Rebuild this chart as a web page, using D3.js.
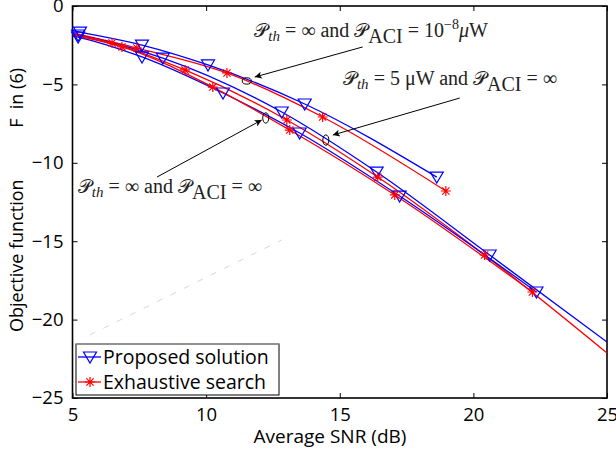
<!DOCTYPE html>
<html>
<head>
<meta charset="utf-8">
<script src="https://cdn.jsdelivr.net/npm/d3@7"></script>
<style>
body { margin: 0; background: #fff; }
svg { display: block; }
.tick text { font-family: "Open Sans", sans-serif; font-size: 18.5px; fill: #000; }
.ann { font-family: "Liberation Serif", "DejaVu Serif", serif; font-size: 20px; fill: #222; }
.ylab { font-family: "Open Sans", sans-serif; font-size: 18px; }
</style>
</head>
<body>
<svg class="chart"></svg>
<script>
// values
var xTicks = [5, 10, 15, 20, 25];
var yTicks = [0, -5, -10, -15, -20, -25];

// P_th = inf, P_ACI = 1e-8 uW
var aciSnrProp = [5.0, 5.28, 7.60, 10.07, 13.69, 18.63];
var aciFProp   = [-1.56, -1.66, -2.49, -3.76, -6.25, -10.91];
var aciMkProp  = [1, 2, 3, 4, 5];
var aciSnrExh  = [5.0, 7.41, 10.78, 14.36, 18.97];
var aciFExh    = [-1.72, -2.68, -4.27, -7.08, -11.80];
var aciMkExh   = [1, 2, 3, 4];

// P_th = 5 uW, P_ACI = inf
var thSnrProp = [5.0, 5.21, 8.38, 12.83, 16.38, 20.61, 25];
var thFProp   = [-1.78, -1.85, -3.32, -6.76, -10.59, -15.88, -21.43];
var thMkProp  = [1, 2, 3, 4, 5];
var thSnrExh  = [5.0, 6.48, 9.21, 13.02, 16.42, 20.42, 25];
var thFExh    = [-1.80, -2.36, -4.08, -7.27, -10.91, -15.88, -22.13];
var thMkExh   = [1, 2, 3, 4, 5];

// P_th = inf, P_ACI = inf
var freeSnrProp = [5.0, 5.21, 7.60, 10.63, 13.50, 17.24, 22.36];
var freeFProp   = [-1.90, -1.98, -3.25, -5.55, -8.10, -12.12, -18.24];
var freeMkProp  = [1, 2, 3, 4, 5, 6];
var freeSnrExh  = [5.0, 6.85, 10.25, 13.13, 17.06, 22.21];
var freeFExh    = [-1.85, -2.61, -5.17, -7.91, -12.05, -18.24];
var freeMkExh   = [1, 2, 3, 4, 5];

var width = 616, height = 451;
var margin = {left: 72.5, top: 6, right: 9, bottom: 53};
var pw = width - margin.left - margin.right,
    ph = height - margin.top - margin.bottom;

var svg = d3.select(".chart").attr("width", width).attr("height", height);

var x = d3.scaleLinear().domain([5, 25]).range([margin.left, margin.left + pw]);
var y = d3.scaleLinear().domain([-25, 0]).range([margin.top + ph, margin.top]);

svg.append("clipPath").attr("id", "plot")
  .append("rect").attr("x", margin.left).attr("y", margin.top).attr("width", pw).attr("height", ph);

// axes, ticks pointing inwards on all four sides
svg.append("g").attr("transform", "translate(0," + (margin.top + ph) + ")")
  .call(d3.axisBottom(x).tickValues(xTicks).tickSize(-5).tickPadding(10).tickFormat(d3.format("d")));
svg.append("g").attr("transform", "translate(0," + margin.top + ")")
  .call(d3.axisTop(x).tickValues(xTicks).tickSize(-5).tickFormat(""));
svg.append("g").attr("transform", "translate(" + margin.left + ",0)")
  .call(d3.axisLeft(y).tickValues(yTicks).tickSize(-5).tickPadding(9).tickFormat(function(d){ return d === 0 ? "0" : "\u2212" + (-d); }));
svg.append("g").attr("transform", "translate(" + (margin.left + pw) + ",0)")
  .call(d3.axisRight(y).tickValues(yTicks).tickSize(-5).tickFormat(""));
svg.selectAll(".domain").remove();
svg.selectAll(".tick line").attr("stroke", "#000").attr("stroke-width", 1);

svg.append("rect").attr("x", margin.left).attr("y", margin.top).attr("width", pw).attr("height", ph)
  .attr("fill", "none").attr("stroke", "#000").attr("stroke-width", 1.6);

// faint stray dotted line in the lower left
svg.append("line")
  .attr("x1", x(5.65)).attr("y1", y(-20.98)).attr("x2", x(12.83)).attr("y2", y(-14.92))
  .attr("stroke", "#ccc").attr("stroke-width", 0.8).attr("stroke-dasharray", "6,9");

var line = d3.line().curve(d3.curveMonotoneX)
  .x(function(d){ return x(d[0]); }).y(function(d){ return y(d[1]); });

var tri = "M-6.5,-5L6.5,-5L0,6Z";
var star = "M-5,0L5,0M0,-5L0,5M-3.6,-3.6L3.6,3.6M-3.6,3.6L3.6,-3.6";

var series = [
  {snr: aciSnrProp, f: aciFProp, mk: aciMkProp, color: "#0000ff", shape: tri},
  {snr: aciSnrExh, f: aciFExh, mk: aciMkExh, color: "#ff0000", shape: star},
  {snr: thSnrProp, f: thFProp, mk: thMkProp, color: "#0000ff", shape: tri},
  {snr: thSnrExh, f: thFExh, mk: thMkExh, color: "#ff0000", shape: star},
  {snr: freeSnrProp, f: freeFProp, mk: freeMkProp, color: "#0000ff", shape: tri},
  {snr: freeSnrExh, f: freeFExh, mk: freeMkExh, color: "#ff0000", shape: star}
];

var plot = svg.append("g").attr("clip-path", "url(#plot)");

series.forEach(function(s){
  var pts = s.snr.map(function(v, i){ return [v, s.f[i]]; });
  plot.append("path").attr("d", line(pts))
    .attr("fill", "none").attr("stroke", s.color).attr("stroke-width", 1.3);
  svg.selectAll(null).data(s.mk).enter().append("path")
    .attr("transform", function(i){ return "translate(" + x(s.snr[i]) + "," + y(s.f[i]) + ")"; })
    .attr("d", s.shape).attr("fill", "none").attr("stroke", s.color).attr("stroke-width", 1.2);
});

// annotations: ellipses and arrows
svg.append("defs").append("marker").attr("id", "head")
  .attr("viewBox", "0 0 10 10").attr("refX", 10).attr("refY", 5)
  .attr("markerWidth", 9).attr("markerHeight", 7).attr("markerUnits", "userSpaceOnUse")
  .attr("orient", "auto")
  .append("path").attr("d", "M0,0L10,5L0,10L2.5,5Z").attr("fill", "#000");

var ellipses = [[11.52, -4.78, 4.5, 3.2], [14.48, -8.55, 3, 5.2], [12.23, -7.14, 3, 5.2]];
svg.selectAll(".ell").data(ellipses).enter().append("ellipse")
  .attr("cx", function(d){ return x(d[0]); }).attr("cy", function(d){ return y(d[1]); })
  .attr("rx", function(d){ return d[2]; }).attr("ry", function(d){ return d[3]; })
  .attr("fill", "none").attr("stroke", "#000").attr("stroke-width", 1);

var arrows = [[15.86, -2.61, 11.82, -4.53], [19.49, -5.87, 14.74, -8.23], [8.16, -10.91, 12.08, -7.27]];
svg.selectAll(".arr").data(arrows).enter().append("line")
  .attr("x1", function(d){ return x(d[0]); }).attr("y1", function(d){ return y(d[1]); })
  .attr("x2", function(d){ return x(d[2]); }).attr("y2", function(d){ return y(d[3]); })
  .attr("stroke", "#000").attr("stroke-width", 1).attr("marker-end", "url(#head)");

// math labels built from pieces: [text, style]
function mathLabel(px, py, parts){
  var t = svg.append("text").attr("class", "ann").attr("x", px).attr("y", py);
  parts.forEach(function(p){
    var ts = t.append("tspan").text(p[0]);
    if (p[1] === "cal") ts.style("font-family", "DejaVu Sans, serif").style("font-size", "19px");
    if (p[1] === "sub") ts.attr("dy", 4).style("font-style", "italic").style("font-size", "15px");
    if (p[1] === "subr") ts.attr("dy", 6).style("font-size", "20px");
    if (p[1] === "up") ts.attr("dy", -4);
    if (p[1] === "up2") ts.attr("dy", -6);
    if (p[1] === "sup") ts.attr("dy", -8).style("font-size", "14px");
    if (p[1] === "down") ts.attr("dy", 8).style("font-style", "italic");
  });
}
mathLabel(x(11.8), y(-1.98), [["\u{1D4AB}", "cal"], ["th", "sub"], [" = \u221E and ", "up"], ["\u{1D4AB}", "cal"],
  ["ACI", "subr"], [" = 10", "up2"], ["\u22128", "sup"], ["\u03BC", "down"], ["W", ""]]);
mathLabel(x(15.12), y(-5.04), [["\u{1D4AB}", "cal"], ["th", "sub"], [" = 5 \u03BCW and ", "up"], ["\u{1D4AB}", "cal"],
  ["ACI", "subr"], [" = \u221E", "up2"]]);
mathLabel(x(5.2), y(-11.93), [["\u{1D4AB}", "cal"], ["th", "sub"], [" = \u221E and ", "up"], ["\u{1D4AB}", "cal"],
  ["ACI", "subr"], [" = \u221E", "up2"]]);

// axis titles
svg.append("text").attr("x", 330).attr("y", 443).attr("text-anchor", "middle")
  .style("font-family", "Open Sans, sans-serif").style("font-size", "19px").text("Average SNR (dB)");
svg.append("text").attr("class", "ylab").attr("transform", "translate(23,332) rotate(-90)")
  .attr("text-anchor", "start").text("Objective function");
svg.append("text").attr("class", "ylab").attr("transform", "translate(23,68) rotate(-90)")
  .attr("text-anchor", "end").text("F\u00A0\u00A0in (6)");

// legend
var lg = svg.append("g").attr("transform", "translate(76,344)");
lg.append("rect").attr("width", 203).attr("height", 51).attr("fill", "#fff").attr("stroke", "#000").attr("stroke-width", 1);
lg.append("line").attr("x1", 0).attr("x2", 203).attr("y1", 0).attr("y2", 0).attr("stroke", "#999").attr("stroke-width", 1.5);
var legendNames = ["Proposed solution", "Exhaustive search"];
var legendColors = ["#0000ff", "#ff0000"];
var legendShapes = [tri, star];
legendNames.forEach(function(name, i){
  var row = lg.append("g").attr("transform", "translate(0," + (13 + i * 25) + ")");
  row.append("line").attr("x1", 2).attr("x2", 25).attr("stroke", legendColors[i]).attr("stroke-width", 1.3);
  row.append("path").attr("transform", "translate(14,0)").attr("d", legendShapes[i])
    .attr("fill", "none").attr("stroke", legendColors[i]).attr("stroke-width", 1.2);
  row.append("text").attr("x", 27).attr("y", 7).style("font-family", "Open Sans, sans-serif")
    .style("font-size", "19.5px").text(name);
});
</script>
</body>
</html>
